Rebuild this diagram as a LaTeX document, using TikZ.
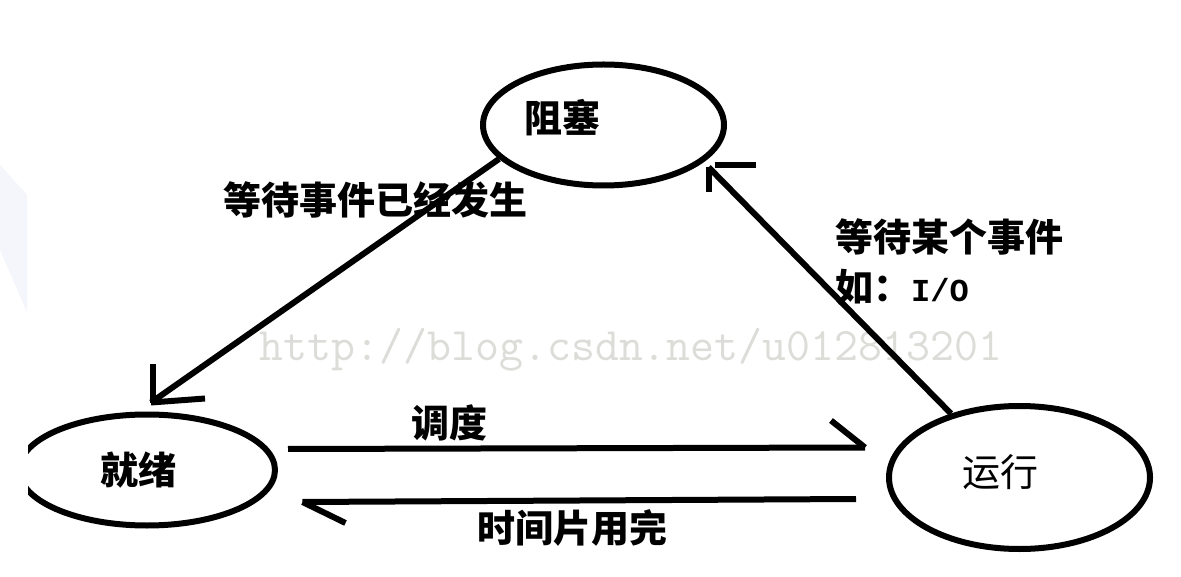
\documentclass[tikz,border=0pt]{standalone}
\usepackage{fontspec}
\usetikzlibrary{shapes.geometric}
\newfontfamily\cjk{Noto Sans CJK SC}
\newfontfamily\iofont{Liberation Mono}
\definecolor{wm}{RGB}{220,220,216}
\definecolor{faint}{RGB}{244,246,252}
\begin{document}
\begin{tikzpicture}[x=1pt,y=-1pt,
  st/.style={draw, ellipse, line width=6pt, inner sep=0pt},
  lbl/.style={font=\cjk\bfseries\fontsize{38}{40}\selectfont, inner sep=0pt},
  lblr/.style={font=\cjk\fontsize{38}{40}\selectfont, inner sep=0pt},
  edge/.style={line width=6pt},
]
\useasboundingbox (0,0) rectangle (1181,577);
\fill[white] (0,0) rectangle (1181,577);
\fill[faint] (0,165) -- (27,195) -- (27,312) -- (0,250) -- cycle;

\node[font=\ttfamily\fontsize{46.5}{47}\selectfont, text=wm, anchor=base, inner sep=0pt] (wm) at (631,360) {http://blog.csdn.net/u012813201};

\node[st, minimum width=241pt, minimum height=121pt] (zs) at (603.5,125) {};
\begin{scope}
\clip (28,0) rectangle (1181,577);
\node[st, minimum width=256pt, minimum height=111pt] (jx) at (147,470) {};
\end{scope}
\node[st, minimum width=261pt, minimum height=143pt] (yx) at (1019.5,477.5) {};

\node[lbl] (zsT) at (562,118) {阻塞};
\node[lbl] (jxT) at (138,470) {就绪};
\node[lblr] (yxT) at (1000,472) {运行};

% blocked -> ready
\coordinate (t1) at ([shift={(4,-9)}]jx.north);
\draw[edge] (zs.198) -- (t1);
\draw[edge] ([shift={(2,-38)}]t1) -- ([shift={(2,0)}]t1);
\draw[edge] (t1) -- ([shift={(54,-4)}]t1);

% running -> blocked
\coordinate (t2) at ([shift={(8,3)}]zs.338);
\draw[edge] (yx.137) -- (t2);
\draw[edge] ([shift={(0,25)}]t2) -- (t2);
\draw[edge] ([shift={(6,-2)}]t2) -- ([shift={(47,-2)}]t2);

% ready -> running
\coordinate (s1) at ([shift={(10,-21)}]jx.east);
\coordinate (e1) at ([shift={(-21,-30)}]yx.west);
\draw[edge] (s1) -- (e1);
\draw[edge] ([shift={(-34,-27)}]e1) -- (e1);

% running -> ready
\coordinate (s2) at ([shift={(-30,21.5)}]yx.west);
\coordinate (e2) at ([shift={(24.5,32)}]jx.east);
\draw[edge] (s2) -- (e2);
\draw[edge] (e2) -- ([shift={(43,21)}]e2);

\node[lbl] (l1) at (375,200) {等待事件已经发生};
\node[lbl, anchor=west] (l2) at (835,237) {等待某个事件};
\node[lbl, anchor=west] (l3) at (835,287) {如：{\iofont\bfseries\fontsize{32}{32}\selectfont I/O}};
\node[lbl] (l4) at (449,423) {调度};
\node[lbl] (l5) at (572,528) {时间片用完};
\end{tikzpicture}
\end{document}
